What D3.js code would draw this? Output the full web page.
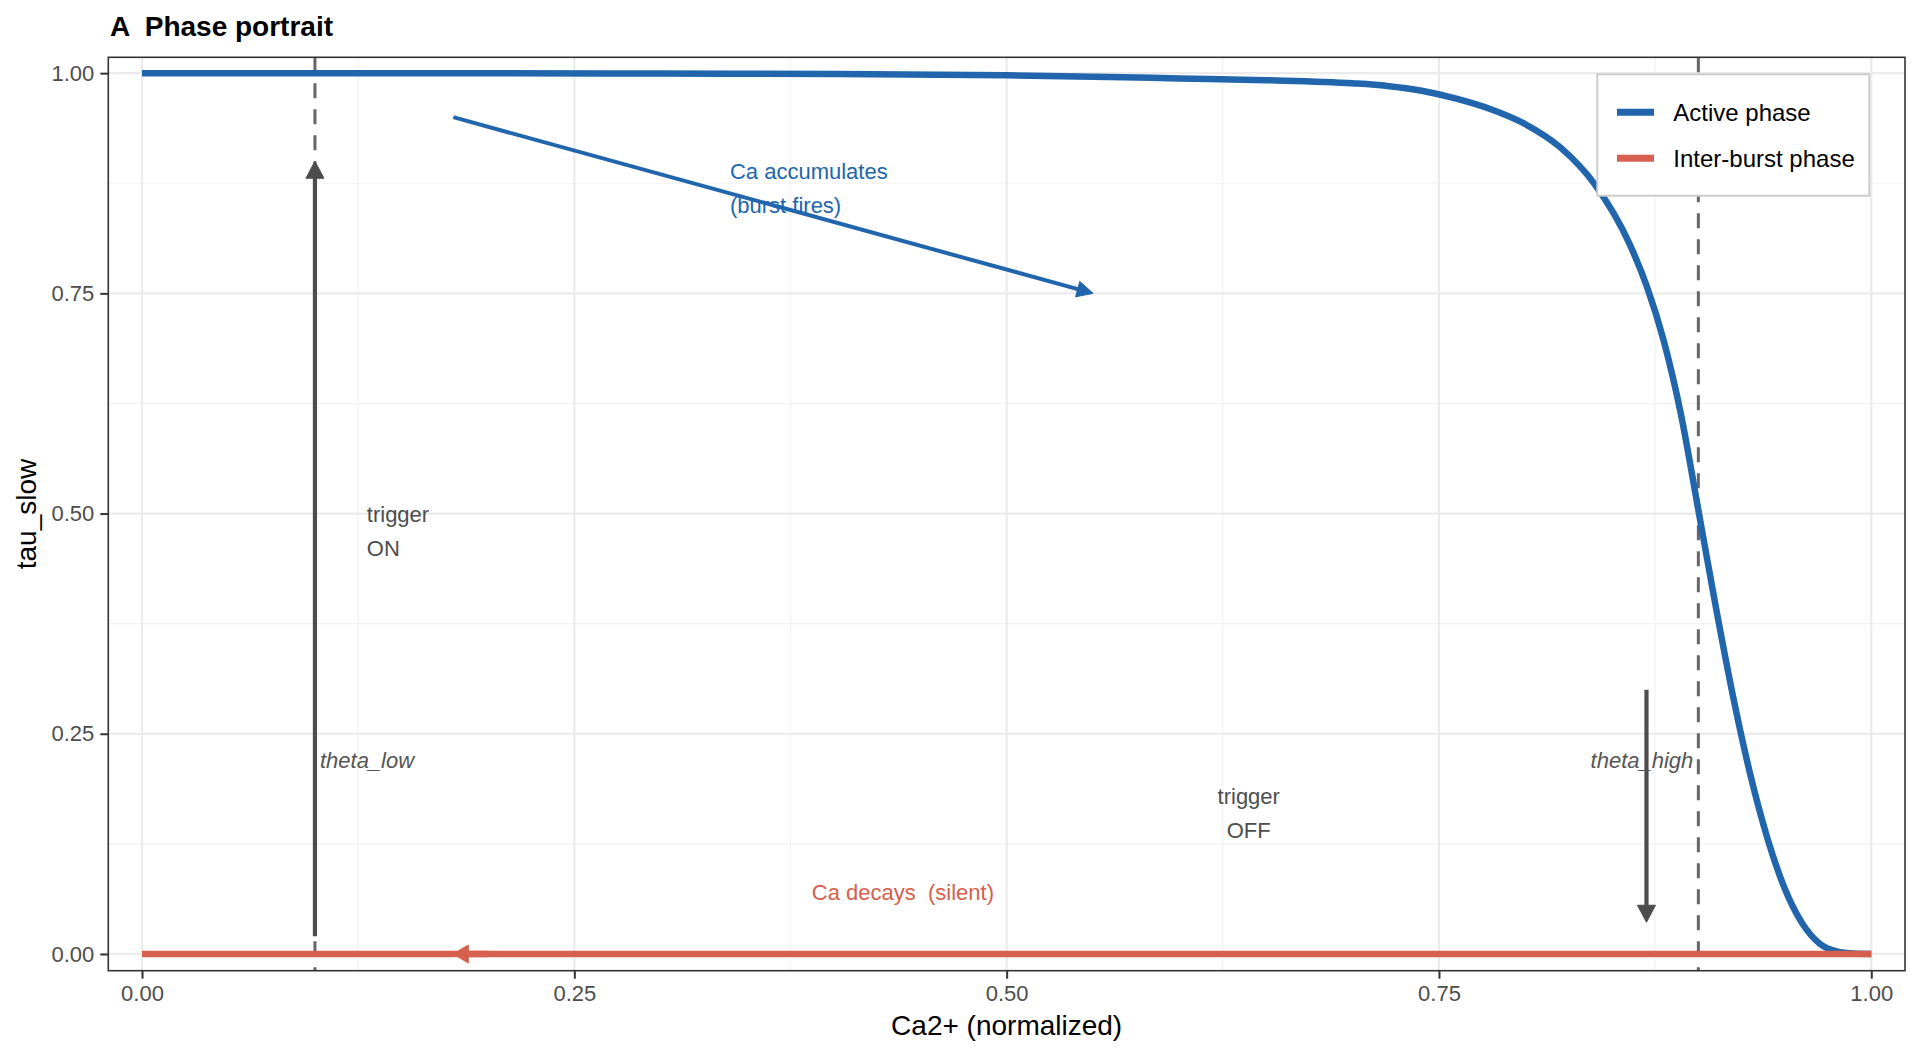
<!DOCTYPE html>
<html>
<head>
<meta charset="utf-8">
<script src="https://cdn.jsdelivr.net/npm/d3@7"></script>
<style>
  html, body { margin: 0; padding: 0; background: #fff; }
  svg { display: block; font-family: "Liberation Sans", Arial, Helvetica, sans-serif; }
</style>
</head>
<body>
<script>
// values
var caLevels = [0, 0.1, 0.2, 0.3, 0.4, 0.5, 0.55, 0.6, 0.65, 0.7, 0.72, 0.74, 0.76, 0.78, 0.8,
  0.82, 0.84, 0.86, 0.87, 0.88, 0.89, 0.9, 0.91, 0.92, 0.93, 0.94, 0.95, 0.96, 0.97, 0.98, 0.99, 1.0];
var tauActive = [1, 1, 1, 0.9995, 0.999, 0.9975, 0.996, 0.994, 0.992, 0.9885, 0.9855, 0.98, 0.971, 0.959, 0.942,
  0.916, 0.874, 0.807, 0.759, 0.696, 0.612, 0.504, 0.395, 0.293, 0.204, 0.131, 0.074, 0.035, 0.012, 0.003, 0.0005, 0];
var caInter = [0, 1];
var tauInter = [0, 0];

var seriesNames = ['Active phase', 'Inter-burst phase'];
var seriesColors = ['#2166ac', '#d6604d'];

var thresholds = [0.1, 0.9];
var thresholdLabels = ['theta_low', 'theta_high'];
var thresholdLabelY = 0.22;

var xTicks = [0, 0.25, 0.5, 0.75, 1];
var yTicks = [0, 0.25, 0.5, 0.75, 1];
var minorTicks = [0.125, 0.375, 0.625, 0.875];

// arrows as [x1, y1, x2, y2]
var arrowBurst = [0.18, 0.95, 0.55, 0.75];
var arrowDecay = [0.2, 0, 0.18, 0];
var arrowOn = [0.1, 0.02, 0.1, 0.9];
var arrowOff = [0.87, 0.3, 0.87, 0.036];

var noteLines = [['Ca accumulates', '(burst fires)'], ['trigger', 'ON'], ['trigger', 'OFF'], ['Ca decays  (silent)']];
var noteX = [0.34, 0.13, 0.64, 0.44];
var noteY = [0.87, 0.48, 0.16, 0.07];

var W = 1920, H = 1056;
var panel = { left: 108.3, right: 1905, top: 57.3, bottom: 970.7 };

var x = d3.scaleLinear().domain([-0.0195, 1.0195]).range([panel.left, panel.right]);
var y = d3.scaleLinear().domain([-0.019, 1.018]).range([panel.bottom, panel.top]);

var svg = d3.select('body').append('svg')
  .attr('width', W)
  .attr('height', H);

svg.append('rect').attr('width', W).attr('height', H).attr('fill', '#fff');

// grid
var grid = svg.append('g');
minorTicks.forEach(function(v) {
  grid.append('line').attr('x1', x(v)).attr('x2', x(v)).attr('y1', panel.top).attr('y2', panel.bottom)
    .attr('stroke', '#f2f2f2').attr('stroke-width', 1.1);
  grid.append('line').attr('y1', y(v)).attr('y2', y(v)).attr('x1', panel.left).attr('x2', panel.right)
    .attr('stroke', '#f2f2f2').attr('stroke-width', 1.1);
});
xTicks.forEach(function(v) {
  grid.append('line').attr('x1', x(v)).attr('x2', x(v)).attr('y1', panel.top).attr('y2', panel.bottom)
    .attr('stroke', '#ebebeb').attr('stroke-width', 2.2);
});
yTicks.forEach(function(v) {
  grid.append('line').attr('y1', y(v)).attr('y2', y(v)).attr('x1', panel.left).attr('x2', panel.right)
    .attr('stroke', '#ebebeb').attr('stroke-width', 2.2);
});

// threshold lines
svg.selectAll('.thr').data(thresholds).enter().append('line')
  .attr('x1', function(d) { return x(d); })
  .attr('x2', function(d) { return x(d); })
  .attr('y1', panel.top)
  .attr('y2', panel.bottom)
  .attr('stroke', '#666')
  .attr('stroke-width', 3)
  .attr('stroke-dasharray', '15,11');

// curves
var line = d3.line()
  .x(function(d) { return x(d[0]); })
  .y(function(d) { return y(d[1]); })
  .curve(d3.curveMonotoneX);

svg.append('path')
  .datum(d3.zip(caLevels, tauActive))
  .attr('d', line)
  .attr('fill', 'none')
  .attr('stroke', seriesColors[0])
  .attr('stroke-width', 6.5);

svg.append('path')
  .datum(d3.zip(caInter, tauInter))
  .attr('d', line)
  .attr('fill', 'none')
  .attr('stroke', seriesColors[1])
  .attr('stroke-width', 6.5);

// arrows with closed heads
function drawArrow(a, color, width, len, half) {
  var x1 = x(a[0]), y1 = y(a[1]), x2 = x(a[2]), y2 = y(a[3]);
  var dx = x2 - x1, dy = y2 - y1;
  var d = Math.sqrt(dx * dx + dy * dy);
  var ux = dx / d, uy = dy / d;
  var bx = x2 - ux * len, by = y2 - uy * len;
  svg.append('line')
    .attr('x1', x1).attr('y1', y1)
    .attr('x2', bx + ux).attr('y2', by + uy)
    .attr('stroke', color)
    .attr('stroke-width', width);
  svg.append('path')
    .attr('d', 'M' + x2 + ',' + y2 +
      'L' + (bx - uy * half) + ',' + (by + ux * half) +
      'L' + (bx + uy * half) + ',' + (by - ux * half) + 'Z')
    .attr('fill', color)
    .attr('stroke', color)
    .attr('stroke-width', 1)
    .attr('stroke-linejoin', 'round');
}

drawArrow(arrowBurst, seriesColors[0], 4, 16, 8);
drawArrow(arrowDecay, seriesColors[1], 6.5, 15, 9);
drawArrow(arrowOn, '#4d4d4d', 4.2, 17, 9);
drawArrow(arrowOff, '#4d4d4d', 4.2, 17, 9);

// notes
var noteColors = [seriesColors[0], '#4d4d4d', '#4d4d4d', seriesColors[1]];
var noteAnchor = ['start', 'start', 'middle', 'middle'];
noteLines.forEach(function(lines, i) {
  var t = svg.append('text')
    .attr('x', x(noteX[i]))
    .attr('y', y(noteY[i]))
    .attr('fill', noteColors[i])
    .attr('text-anchor', noteAnchor[i])
    .style('font-size', '22px')
    .style('white-space', 'pre');
  if (lines.length === 1) {
    t.append('tspan').attr('x', x(noteX[i])).attr('dy', 7.7).text(lines[0]);
  } else {
    t.append('tspan').attr('x', x(noteX[i])).attr('dy', -9).text(lines[0]);
    t.append('tspan').attr('x', x(noteX[i])).attr('dy', 34).text(lines[1]);
  }
});

// threshold labels
thresholds.forEach(function(v, i) {
  svg.append('text')
    .attr('x', x(v) + (i === 0 ? 5 : -5))
    .attr('y', y(thresholdLabelY) + 7.7)
    .attr('text-anchor', i === 0 ? 'start' : 'end')
    .attr('fill', '#555')
    .style('font-size', '22px')
    .style('font-style', 'italic')
    .text(thresholdLabels[i]);
});

// panel border
svg.append('rect')
  .attr('x', panel.left).attr('y', panel.top)
  .attr('width', panel.right - panel.left)
  .attr('height', panel.bottom - panel.top)
  .attr('fill', 'none')
  .attr('stroke', '#333')
  .attr('stroke-width', 1.6);

// axes
var xAxis = svg.append('g')
  .attr('transform', 'translate(0,' + panel.bottom + ')')
  .call(d3.axisBottom(x).tickValues(xTicks).tickFormat(d3.format('.2f')).tickSize(8).tickPadding(7));
var yAxis = svg.append('g')
  .attr('transform', 'translate(' + panel.left + ',0)')
  .call(d3.axisLeft(y).tickValues(yTicks).tickFormat(d3.format('.2f')).tickSize(8).tickPadding(6));

[xAxis, yAxis].forEach(function(g) {
  g.select('.domain').remove();
  g.selectAll('.tick line').attr('stroke', '#333').attr('stroke-width', 2);
  g.selectAll('.tick text')
    .attr('fill', '#4d4d4d')
    .style('font-size', '22px')
    .style('font-family', '"Liberation Sans", Arial, Helvetica, sans-serif');
});

svg.append('text')
  .attr('x', (panel.left + panel.right) / 2)
  .attr('y', 1035)
  .attr('text-anchor', 'middle')
  .style('font-size', '28px')
  .text('Ca2+ (normalized)');

svg.append('text')
  .attr('transform', 'translate(36,' + ((panel.top + panel.bottom) / 2) + ') rotate(-90)')
  .attr('text-anchor', 'middle')
  .style('font-size', '28px')
  .text('tau_slow');

svg.append('text')
  .attr('x', 110)
  .attr('y', 36)
  .style('font-size', '28px')
  .style('font-weight', 'bold')
  .style('white-space', 'pre')
  .text('A  Phase portrait');

// legend
var legend = svg.append('g');
legend.append('rect')
  .attr('x', 1597.3).attr('y', 74.3)
  .attr('width', 272).attr('height', 121.4)
  .attr('fill', '#fff')
  .attr('stroke', '#cccccc')
  .attr('stroke-width', 2);

seriesNames.forEach(function(name, i) {
  var cy = 112.3 + i * 46;
  legend.append('line')
    .attr('x1', 1617).attr('x2', 1654)
    .attr('y1', cy).attr('y2', cy)
    .attr('stroke', seriesColors[i])
    .attr('stroke-width', 7);
  legend.append('text')
    .attr('x', 1673.3)
    .attr('y', cy + 8.5)
    .style('font-size', '24px')
    .text(name);
});
</script>
</body>
</html>
